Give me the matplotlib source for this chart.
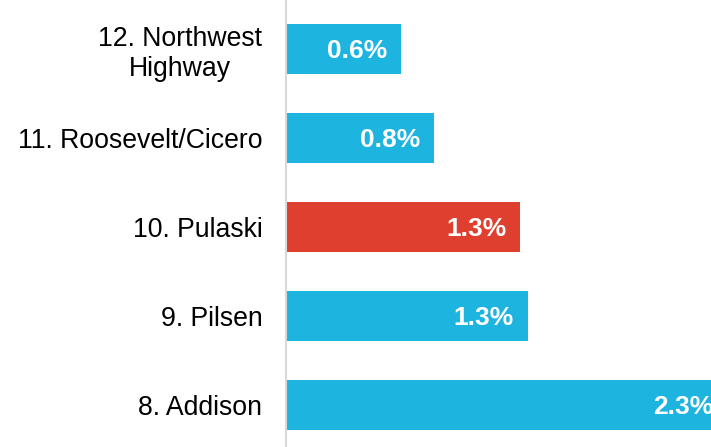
import matplotlib
matplotlib.use("Agg")
import matplotlib.pyplot as plt

categories = ["8. Addison", "9. Pilsen", "10. Pulaski", "11. Roosevelt/Cicero", "12. Northwest\nHighway"]
values = [2.3, 1.26, 1.22, 0.77, 0.6]
value_labels = ["2.3%", "1.3%", "1.3%", "0.8%", "0.6%"]
colors = ["#1EB4E0", "#1EB4E0", "#DE3F2F", "#1EB4E0", "#1EB4E0"]

plt.rcParams['font.family'] = ['Liberation Sans', 'DejaVu Sans']

fig = plt.figure(figsize=(7.11, 4.47), dpi=100)
ax = fig.add_axes([286/711, 0, (711-286)/711, 1])
y = list(range(len(categories)))
ax.barh(y, values, height=0.56, color=colors)
ax.set_xlim(0, 425/192)
ax.set_ylim(-0.47, 4.55)
ax.set_yticks(y)
ax.set_yticklabels(categories, fontsize=19.2, multialignment='center')
ax.tick_params(axis='y', length=0, pad=17)
ax.set_xticks([])
for s in ['top', 'right', 'bottom']:
    ax.spines[s].set_visible(False)
ax.spines['left'].set_color('#D9D9D9')
ax.spines['left'].set_linewidth(1.5)
for yi, v, lab in zip(y, values, value_labels):
    ax.annotate(lab, (v, yi), xytext=(-10, -1.5), textcoords='offset points',
                ha='right', va='center', color='white', fontsize=19,
                fontweight='bold', annotation_clip=False)
fig.savefig("out.png", dpi=100)
